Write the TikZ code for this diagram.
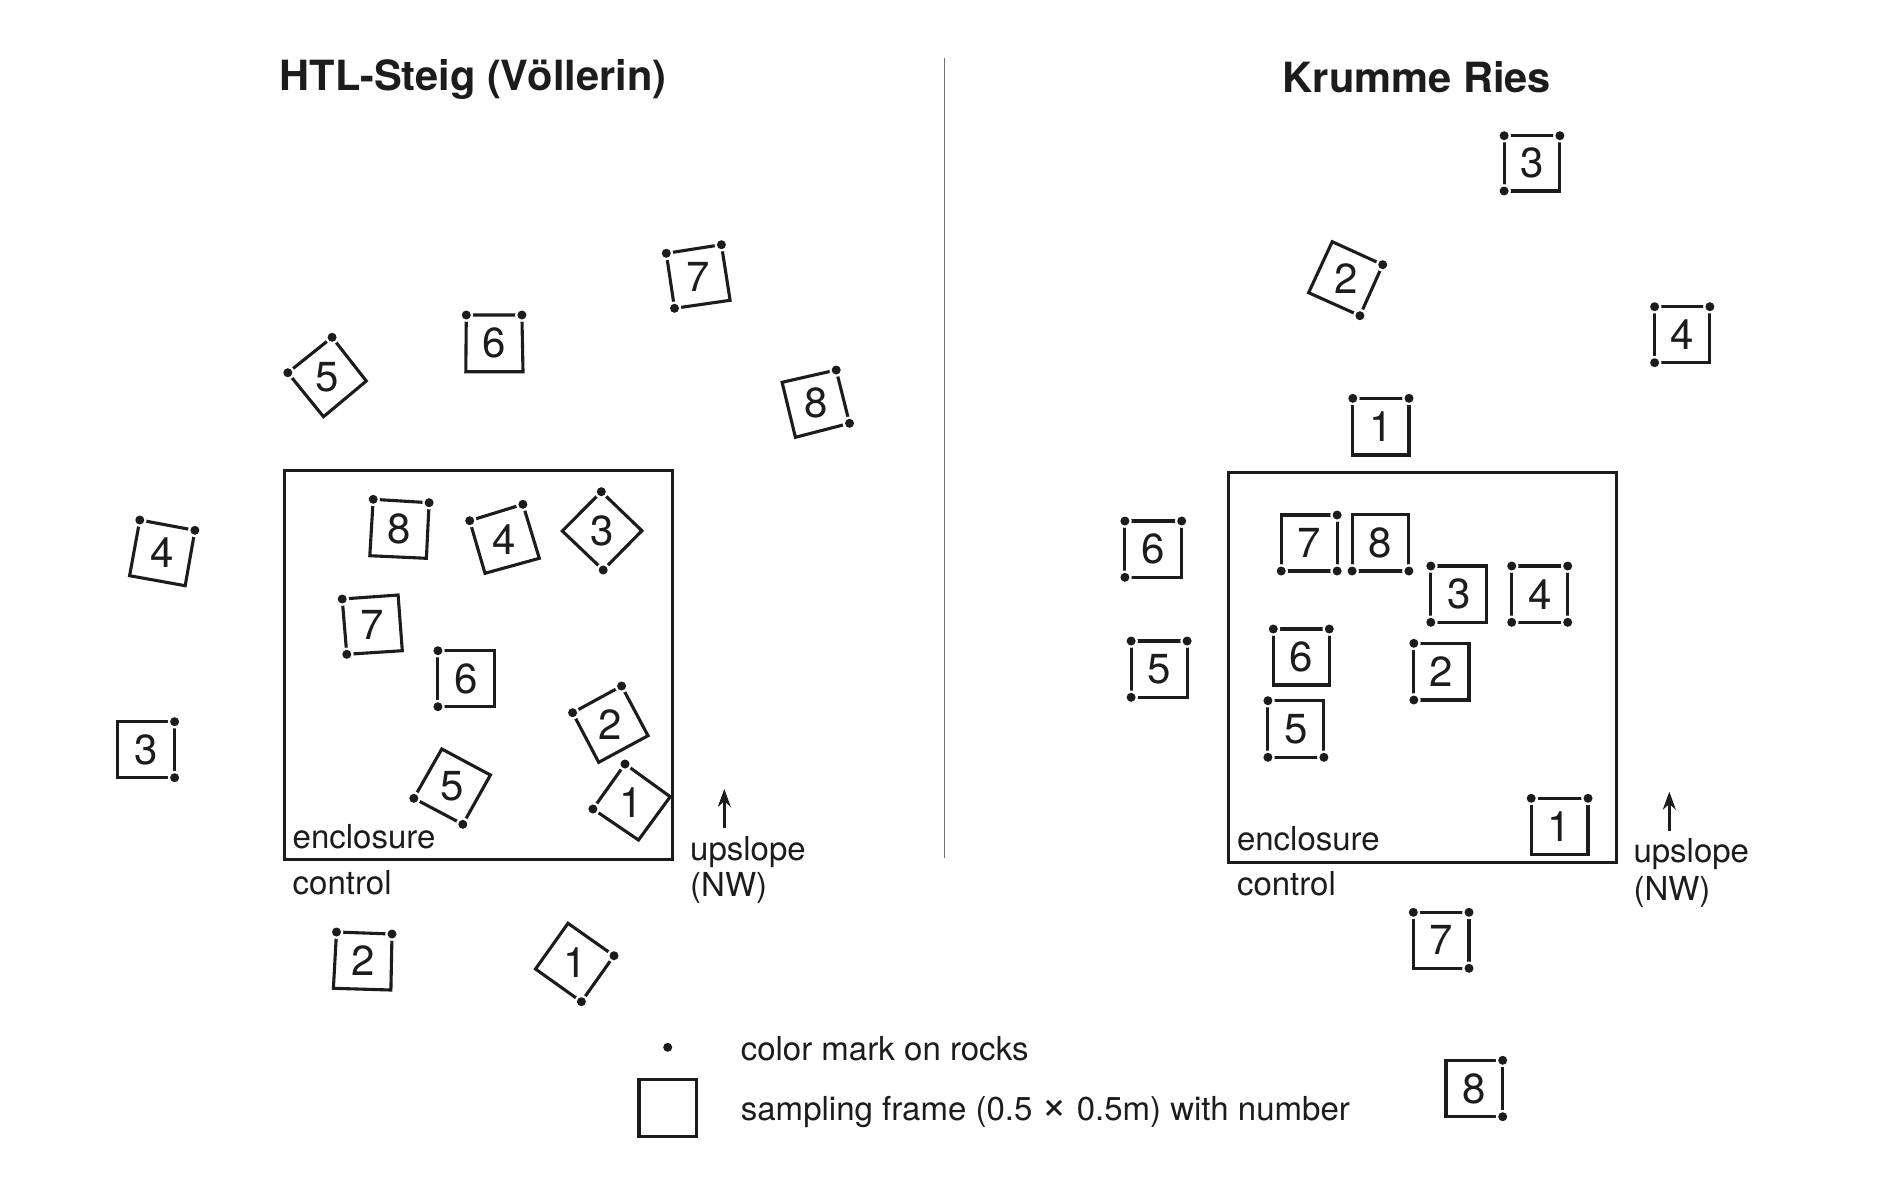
\documentclass[tikz,border=0pt]{standalone}
\usepackage{fontspec}
\setmainfont{TeX Gyre Heros}
\usetikzlibrary{arrows.meta}
\definecolor{ink}{RGB}{30,27,28}
\tikzset{
  frm/.style={draw=ink, line width=3.1pt, line join=miter},
  encl/.style={draw=ink, line width=3pt},
  num/.style={font=\fontsize{42}{42}\selectfont, inner sep=0pt, text=ink},
  lbl/.style={font=\fontsize{33}{40}\selectfont, inner sep=0pt, anchor=base west, text=ink},
  ttl/.style={font=\fontsize{41.6}{46}\selectfont\bfseries, inner sep=0pt, anchor=base, text=ink},
  upar/.style={draw=ink, line width=2.4pt, -{Stealth[length=18pt,width=13pt]}}
}
% #1 name, #2..#5 corners (clockwise from top-left), #6 number
\newcommand\qframe[6]{%
  \coordinate (#1a) at #2;
  \coordinate (#1b) at #3;
  \coordinate (#1c) at #4;
  \coordinate (#1d) at #5;
  \draw[frm] (#1a) -- (#1b) -- (#1c) -- (#1d) -- cycle;
  \node[num] (#1n) at (barycentric cs:#1a=1,#1b=1,#1c=1,#1d=1) {#6};
}
% #1 name, #2 list of corners carrying a colour mark
\newcommand\qdots{}
\renewcommand\qdots[2]{%
  \foreach \cn in {#2}{%
    \fill[white] (#1\cn) circle (6.8pt);
    \fill[ink] (#1\cn) circle (4.5pt);
  }%
}
\begin{document}
\begin{tikzpicture}[x=1pt,y=-1pt]
\fill[white] (0,0) rectangle (1889,1181);
\useasboundingbox (0,0) rectangle (1889,1181);

% titles
\node[ttl] (t1) at (473,90) {HTL-Steig (Völlerin)};
\node[ttl] (t2) at (1417,92.7) {Krumme Ries};

% divider
\draw[black!55, line width=1.5pt] (944.5,58) -- (944.5,858);

% ---------- left site ----------
\draw[encl] (284.5,470) rectangle (672.9,859.3);
\node[lbl] (le) at (292.5,848.3) {enclosure};
\node[lbl] (lc) at (292.5,894.3) {control};

\qframe{L5}{(332.1,337.3)}{(366.3,381)}{(323.5,416.7)}{(287.8,372.7)}{5}
\qdots{L5}{a,d}
\qframe{L6}{(466.3,315)}{(521.9,315)}{(523,371.7)}{(465.8,371.7)}{6}
\qdots{L6}{a,b}
\qframe{L7}{(666.3,253.3)}{(721.4,244.7)}{(730.1,300.3)}{(674.5,308.3)}{7}
\qdots{L7}{a,b,d}
\qframe{L8}{(782.1,382.3)}{(836.2,370)}{(849.5,423.3)}{(795.4,437.3)}{8}
\qdots{L8}{b,c}
\qframe{L4}{(139.8,520)}{(194.9,530.3)}{(185.2,585.7)}{(129.6,575.7)}{4}
\qdots{L4}{a,b}
\qframe{L3}{(117.2,721.7)}{(174.6,721.7)}{(174.6,777.7)}{(117.2,777.7)}{3}
\qdots{L3}{b,c}
\qframe{L2}{(336.5,932)}{(392,934)}{(390.9,990)}{(333.4,988.3)}{2}
\qdots{L2}{a,b}
\qframe{L1}{(568,923.3)}{(614,955.7)}{(581.4,1001.7)}{(535.5,969)}{1}
\qdots{L1}{b,c}

\qframe{E8}{(373.2,499.3)}{(429.1,502.7)}{(426.4,558.3)}{(369.8,555.7)}{8}
\qdots{E8}{a,b}
\qframe{E4}{(469.7,520.7)}{(522.9,504.3)}{(539.3,558.3)}{(485,573.3)}{4}
\qdots{E4}{a,b}
\qframe{E3}{(601.3,491.7)}{(641.9,530.7)}{(603.2,570)}{(562.3,531)}{3}
\qdots{E3}{a,c}
\qframe{E7}{(342.2,599)}{(398.1,595)}{(402.3,650.7)}{(346.8,654.3)}{7}
\qdots{E7}{a,d}
\qframe{E6}{(437.9,650.7)}{(494.2,650.7)}{(494.2,706.7)}{(437.9,706.7)}{6}
\qdots{E6}{a,d}
\qframe{E2}{(572.6,712.7)}{(621.6,686)}{(648,735.7)}{(598.7,762.3)}{2}
\qdots{E2}{a,b}
\qframe{E5}{(441.8,749)}{(490.4,775)}{(462.8,824.3)}{(413.8,798.3)}{5}
\qdots{E5}{c,d}
\qframe{E1}{(625,764)}{(670.2,796.7)}{(638.5,840)}{(592.9,809)}{1}
\qdots{E1}{a,d}

\coordinate (la0) at (724.3,828.3);
\coordinate (la1) at (724.3,789);
\draw[upar] (la0) -- (la1);
\node[lbl] (lu) at (690,860) {upslope};
\node[lbl] (ln) at (690,896.7) {(NW)};

% ---------- right site ----------
\draw[encl] (1228.6,472.2) rectangle (1616.8,862.3);
\node[lbl] (re) at (1236.8,850) {enclosure};
\node[lbl] (rc) at (1236.8,895) {control};

\qframe{R3}{(1504.1,135.7)}{(1559.9,135.7)}{(1559.9,191)}{(1504.1,191)}{3}
\qdots{R3}{a,b,d}
\qframe{R2}{(1332.2,241.7)}{(1382.7,264.7)}{(1359.9,315.7)}{(1308.6,292.7)}{2}
\qdots{R2}{b,c}
\qframe{R4}{(1654.6,306.7)}{(1709.9,306.7)}{(1709.9,362.7)}{(1654.6,362.7)}{4}
\qdots{R4}{a,b,d}
\qframe{R1}{(1352.8,398.3)}{(1409,398.3)}{(1409,455)}{(1352.8,455)}{1}
\qdots{R1}{a,b}
\qframe{R6}{(1124.9,521)}{(1181.7,521)}{(1181.7,577.3)}{(1124.9,577.3)}{6}
\qdots{R6}{a,b,d}
\qframe{R5}{(1131.1,641)}{(1187.1,641)}{(1187.1,697.3)}{(1131.1,697.3)}{5}
\qdots{R5}{a,b,d}

\qframe{I7}{(1281.2,515)}{(1337.1,515)}{(1337.1,571)}{(1281.2,571)}{7}
\qdots{I7}{b,c,d}
\qframe{I8}{(1352.1,514.3)}{(1408.9,514.3)}{(1408.9,571)}{(1352.1,571)}{8}
\qdots{I8}{c,d}
\qframe{I3}{(1430.8,566)}{(1486.8,566)}{(1486.8,622.3)}{(1430.8,622.3)}{3}
\qdots{I3}{a,d}
\qframe{I4}{(1511.7,566)}{(1567.7,566)}{(1567.7,622.3)}{(1511.7,622.3)}{4}
\qdots{I4}{a,b,c,d}
\qframe{I6}{(1273.3,629)}{(1329.3,629)}{(1329.3,685)}{(1273.3,685)}{6}
\qdots{I6}{a,b}
\qframe{I2}{(1413.8,643.3)}{(1469,643.3)}{(1469,700)}{(1413.8,700)}{2}
\qdots{I2}{a,d}
\qframe{I5}{(1267.9,700.7)}{(1323.9,700.7)}{(1323.9,757.3)}{(1267.9,757.3)}{5}
\qdots{I5}{a,c,d}
\qframe{I1}{(1531.2,798.3)}{(1588,798.3)}{(1588,854.3)}{(1531.2,854.3)}{1}
\qdots{I1}{a,b}

\qframe{R7}{(1413.3,912.3)}{(1469,912.3)}{(1469,968.3)}{(1413.3,968.3)}{7}
\qdots{R7}{a,b,c}
\qframe{R8}{(1446,1060.3)}{(1502.7,1060.3)}{(1502.7,1116.7)}{(1446,1116.7)}{8}
\qdots{R8}{b,c}

\coordinate (ra0) at (1669.3,830.7);
\coordinate (ra1) at (1669.3,791.7);
\draw[upar] (ra0) -- (ra1);
\node[lbl] (ru) at (1633.3,862) {upslope};
\node[lbl] (rn) at (1633.3,900.7) {(NW)};

% ---------- legend ----------
\fill[ink] (667.7,1047.3) circle (4.5pt) coordinate (kdot);
\draw[frm] (639,1079.3) rectangle (696.4,1136.7);
\node[lbl] (k1) at (740.6,1060) {color mark on rocks};
\node[lbl] (k2) at (740.6,1120) {sampling frame (0.5 \raisebox{0.5pt}{\scalebox{1.35}{×}} 0.5m) with number};
\end{tikzpicture}
\end{document}
